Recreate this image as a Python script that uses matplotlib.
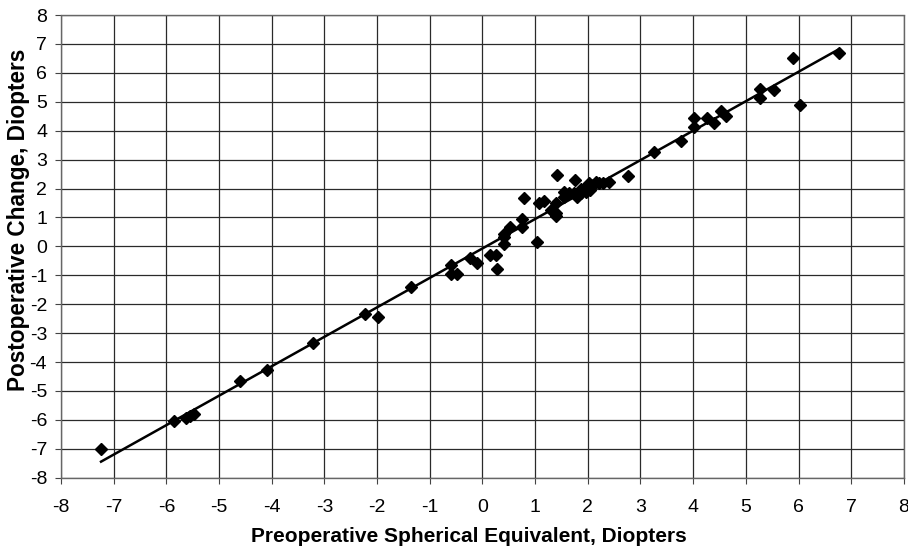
import matplotlib

matplotlib.use("Agg")

import matplotlib.pyplot as plt
import numpy as np

# preoperative spherical equivalent (D) vs postoperative change (D)
pre_se = [
    -7.24, -5.85, -5.62, -5.55, -5.48, -4.61, -4.09, -3.22, -2.22, -1.98,
    -1.36, -0.60, -0.60, -0.49, -0.24, -0.10, 0.14, 0.25, 0.27, 0.40,
    0.40, 0.40, 0.52, 0.76, 0.76, 0.78, 1.03, 1.08, 1.16, 1.30,
    1.39, 1.39, 1.41, 1.40, 1.55, 1.55, 1.65, 1.74, 1.75, 1.80,
    1.87, 1.87, 1.96, 1.96, 2.03, 2.05, 2.09, 2.15, 2.22, 2.28,
    2.41, 2.76, 3.26, 3.76, 4.02, 4.02, 4.26, 4.39, 4.53, 4.63,
    5.27, 5.27, 5.53, 5.90, 6.03, 6.77,
]
post_change = [
    -7.00, -6.04, -5.95, -5.85, -5.80, -4.65, -4.28, -3.33, -2.34, -2.43,
    -1.42, -0.65, -0.97, -0.97, -0.41, -0.57, -0.30, -0.30, -0.80, 0.43,
    0.33, 0.08, 0.68, 0.93, 0.68, 1.68, 0.16, 1.49, 1.58, 1.26,
    1.51, 1.14, 2.47, 1.05, 1.89, 1.72, 1.83, 1.83, 2.29, 1.72,
    2.00, 1.83, 2.06, 1.89, 2.18, 1.96, 2.12, 2.23, 2.18, 2.20,
    2.23, 2.43, 3.27, 3.64, 4.45, 4.14, 4.43, 4.25, 4.68, 4.50,
    5.44, 5.12, 5.40, 6.50, 4.89, 6.67,
]

ticks = list(range(-8, 9))

x = np.array(pre_se)
y = np.array(post_change)
slope, intercept = np.polyfit(x, y, 1)
fit_x = np.array([x.min(), x.max()])

plt.rcParams["font.family"] = ["Liberation Sans", "DejaVu Sans"]
plt.rcParams["axes.unicode_minus"] = False

fig = plt.figure(figsize=(9.08, 5.48), dpi=100)
ax = fig.add_axes([61 / 908, 1 - 477.7 / 548, (903.9 - 61) / 908, (477.7 - 15) / 548])

ax.plot(fit_x, slope * fit_x + intercept, color="black", linewidth=1.8, zorder=3)
ax.plot(x, y, linestyle="none", marker="D", markersize=6.3, color="black", zorder=4)

ax.set_xlim(-8, 8)
ax.set_ylim(-8, 8)
ax.set_xticks(ticks)
ax.set_yticks(ticks)
ax.grid(True, color="#2a2a2a", linewidth=0.9)
ax.set_axisbelow(True)
for side in ax.spines.values():
    side.set_color("#666666")
    side.set_linewidth(1.0)
    side.set_linestyle((0, (1, 1)))
ax.tick_params(direction="out", length=4, width=0.8, color="#444444", labelsize=14)
ax.tick_params(axis="x", pad=11)
ax.tick_params(axis="y", pad=6)

ax.set_xlabel("Preoperative Spherical Equivalent, Diopters", fontsize=15,
              fontweight="bold", va="center")
ax.set_ylabel("Postoperative Change, Diopters", fontsize=16.3,
              fontweight="bold", va="center")
ax.xaxis.set_label_coords(0.4835, -0.128)
ax.yaxis.set_label_coords(-0.051, 0.557)

fig.savefig("out.png", dpi=100, facecolor="white")
